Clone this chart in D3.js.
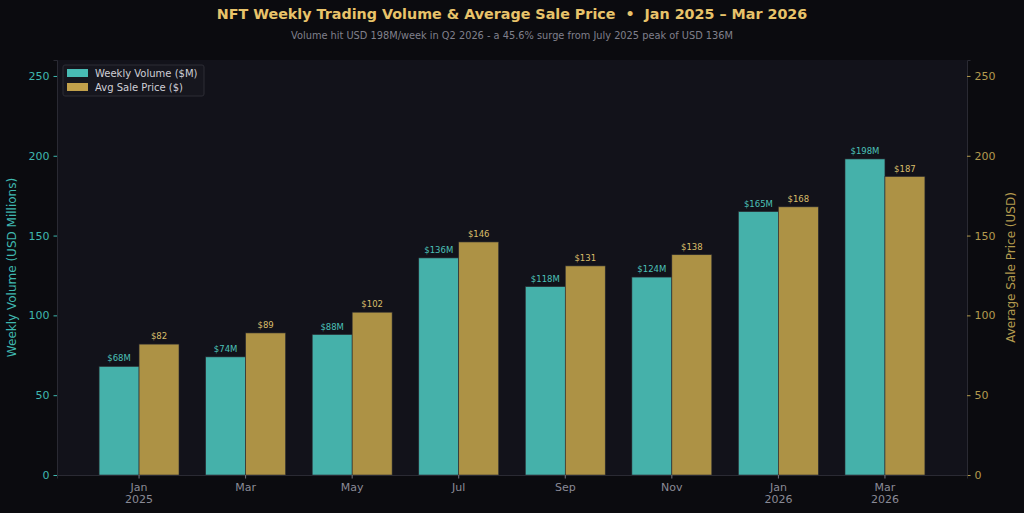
<!DOCTYPE html>
<html>
<head>
<meta charset="utf-8">
<script src="https://cdn.jsdelivr.net/npm/d3@7"></script>
<style>
  body { margin: 0; background: #0b0b0f; }
  svg text { font-family: "DejaVu Sans", sans-serif; white-space: pre; }
</style>
</head>
<body>
<svg id="chart"></svg>
<script>
// data
var months = ["Jan", "Mar", "May", "Jul", "Sep", "Nov", "Jan", "Mar"];
var years = ["2025", "", "", "", "", "", "2026", "2026"];
var volume = [68, 74, 88, 136, 118, 124, 165, 198];
var price = [82, 89, 102, 146, 131, 138, 168, 187];
var yTicks = [0, 50, 100, 150, 200, 250];

var W = 1024, H = 513;
var margin = {top: 60, left: 57, bottom: 38, right: 57};
var width = W - margin.left - margin.right;
var height = H - margin.top - margin.bottom;

var tealC = "#45b1aa", goldC = "#ad9245";

var svg = d3.select("#chart")
    .attr("width", W)
    .attr("height", H);

svg.append("rect").attr("width", W).attr("height", H).attr("fill", "#0b0b0f");

var g = svg.append("g")
    .attr("transform", "translate(" + margin.left + "," + margin.top + ")");

g.append("rect").attr("width", width).attr("height", height).attr("fill", "#12121a");

var x = d3.scaleBand()
    .domain(d3.range(months.length))
    .range([0, width])
    .paddingInner(0.25)
    .paddingOuter(0.395);

var yL = d3.scaleLinear().domain([0, 260]).range([height, 0]);
var yR = d3.scaleLinear().domain([0, 260]).range([height, 0]);

var bw = x.bandwidth() / 2;

// bars
var groups = g.selectAll(".grp")
    .data(months)
    .enter().append("g")
    .attr("class", "grp");

groups.append("rect")
    .attr("x", (d, i) => x(i))
    .attr("y", (d, i) => yL(volume[i]))
    .attr("width", bw)
    .attr("height", (d, i) => height - yL(volume[i]))
    .attr("fill", tealC)
    .attr("stroke", "#2a2a30")
    .attr("stroke-width", 0.6);

groups.append("rect")
    .attr("x", (d, i) => x(i) + bw)
    .attr("y", (d, i) => yR(price[i]))
    .attr("width", bw)
    .attr("height", (d, i) => height - yR(price[i]))
    .attr("fill", goldC)
    .attr("stroke", "#2a2a30")
    .attr("stroke-width", 0.6);

groups.append("text")
    .attr("x", (d, i) => x(i) + bw / 2)
    .attr("y", (d, i) => yL(volume[i]) - 5)
    .attr("text-anchor", "middle")
    .attr("font-size", "8.5px")
    .attr("fill", "#4cc0b8")
    .text((d, i) => "$" + volume[i] + "M");

groups.append("text")
    .attr("x", (d, i) => x(i) + bw * 1.5)
    .attr("y", (d, i) => yR(price[i]) - 5)
    .attr("text-anchor", "middle")
    .attr("font-size", "8.5px")
    .attr("fill", "#d9bd6a")
    .text((d, i) => "$" + price[i]);

// axes
var leftAxis = g.append("g")
    .call(d3.axisLeft(yL).tickValues(yTicks).tickSize(3.5).tickPadding(4));
leftAxis.select(".domain").attr("stroke", "#2a2a33");
leftAxis.selectAll(".tick line").attr("stroke", "#3fb8b0");
leftAxis.selectAll(".tick text").attr("fill", "#3fb8b0").attr("font-size", "11px");

var rightAxis = g.append("g")
    .attr("transform", "translate(" + width + ",0)")
    .call(d3.axisRight(yR).tickValues(yTicks).tickSize(3.5).tickPadding(4));
rightAxis.select(".domain").attr("stroke", "#2a2a33");
rightAxis.selectAll(".tick line").attr("stroke", "#b39a4e");
rightAxis.selectAll(".tick text").attr("fill", "#b39a4e").attr("font-size", "11px");

var bottomAxis = g.append("g")
    .attr("transform", "translate(0," + height + ")")
    .call(d3.axisBottom(x).tickSize(3.5).tickPadding(4).tickFormat(""));
bottomAxis.select(".domain").attr("stroke", "#2a2a33");
bottomAxis.selectAll(".tick line").attr("stroke", "#777782");

var xl = g.selectAll(".xl")
    .data(months)
    .enter().append("text")
    .attr("x", (d, i) => x(i) + x.bandwidth() / 2)
    .attr("y", height + 16)
    .attr("text-anchor", "middle")
    .attr("font-size", "11px")
    .attr("fill", "#8a8a96");
xl.append("tspan").text(d => d);
xl.append("tspan")
    .attr("x", (d, i) => x(i) + x.bandwidth() / 2)
    .attr("dy", 12)
    .text((d, i) => years[i]);

// axis titles
svg.append("text")
    .attr("transform", "translate(16," + (margin.top + height / 2) + ") rotate(-90)")
    .attr("text-anchor", "middle")
    .attr("font-size", "12px")
    .attr("fill", "#3fb8b0")
    .text("Weekly Volume (USD Millions)");

svg.append("text")
    .attr("transform", "translate(1015," + (margin.top + height / 2) + ") rotate(-90)")
    .attr("text-anchor", "middle")
    .attr("font-size", "12px")
    .attr("fill", "#b39a4e")
    .text("Average Sale Price (USD)");

// titles
svg.append("text")
    .attr("x", W / 2)
    .attr("y", 18.5)
    .attr("text-anchor", "middle")
    .attr("font-size", "14.3px")
    .attr("font-weight", "bold")
    .attr("fill", "#e8c36a")
    .text("NFT Weekly Trading Volume & Average Sale Price  \u2022  Jan 2025 \u2013 Mar 2026");

svg.append("text")
    .attr("x", W / 2)
    .attr("y", 38.5)
    .attr("text-anchor", "middle")
    .attr("font-size", "9.8px")
    .attr("fill", "#80808c")
    .text("Volume hit USD 198M/week in Q2 2026 - a 45.6% surge from July 2025 peak of USD 136M");

// legend
var leg = g.append("g").attr("transform", "translate(6,5)");
leg.append("rect")
    .attr("width", 141).attr("height", 31).attr("rx", 2)
    .attr("fill", "#16161e").attr("stroke", "#2c2c34");
var legItems = [["Weekly Volume ($M)", "#4ecdc4"], ["Avg Sale Price ($)", "#d4af50"]];
legItems.forEach(function(d, i) {
    leg.append("rect")
        .attr("x", 4).attr("y", 4 + i * 14)
        .attr("width", 21).attr("height", 8)
        .attr("fill", d[1]).attr("opacity", 0.9);
    leg.append("text")
        .attr("x", 32).attr("y", 11.5 + i * 14)
        .attr("font-size", "10px")
        .attr("fill", "#cfcfd6")
        .text(d[0]);
});
</script>
</body>
</html>
